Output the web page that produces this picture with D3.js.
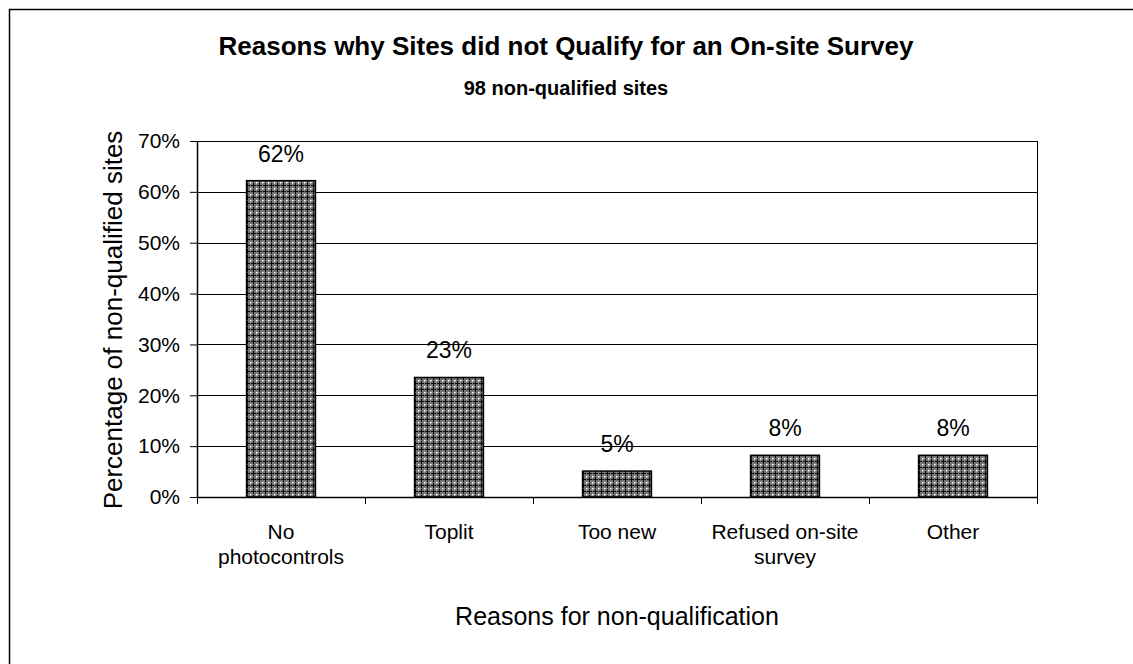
<!DOCTYPE html>
<html>
<head>
<meta charset="utf-8">
<script src="https://cdn.jsdelivr.net/npm/d3@7"></script>
<style>
  body { margin: 0; background: #fff; }
  text { font-family: "Liberation Sans", Arial, sans-serif; fill: #000; }
</style>
</head>
<body>
<script>
var categories = ['No photocontrols', 'Toplit', 'Too new', 'Refused on-site survey', 'Other'];
var labelLines = [['No', 'photocontrols'], ['Toplit'], ['Too new'], ['Refused on-site', 'survey'], ['Other']];
var values = [0.622, 0.235, 0.051, 0.082, 0.082];
var valueLabels = ['62%', '23%', '5%', '8%', '8%'];
var yTicks = [0, 0.1, 0.2, 0.3, 0.4, 0.5, 0.6, 0.7];

var width = 1133;
var height = 664;

var margin = {
    left: 197,
    right: 96,
    top: 141,
    bottom: 167
}
var plotW = width - margin.left - margin.right;
var plotH = height - margin.top - margin.bottom;

var x = d3.scaleBand()
    .domain(categories)
    .range([0, plotW])
    .paddingInner(0.59)
    .paddingOuter(0.295);

var y = d3.scaleLinear()
    .domain([0, 0.7])
    .range([plotH, 0]);

var yAxis = d3.axisLeft(y)
    .tickValues(yTicks)
    .tickFormat(d3.format('.0%'))
    .tickSizeInner(7)
    .tickSizeOuter(0)
    .tickPadding(10);

var svg = d3.select('body').append('svg').attr('width', width).attr('height', height);

// bar fill pattern
var defs = svg.append('defs');
var pat = defs.append('pattern')
    .attr('id', 'hatch')
    .attr('patternUnits', 'userSpaceOnUse')
    .attr('width', 6).attr('height', 6);
pat.append('rect').attr('width', 6).attr('height', 6).attr('fill', '#777');
pat.append('rect').attr('x', 2).attr('y', 0).attr('width', 1).attr('height', 5).attr('fill', '#0a0a0a');
pat.append('rect').attr('x', 0).attr('y', 2).attr('width', 5).attr('height', 1).attr('fill', '#0a0a0a');
pat.append('rect').attr('x', 5).attr('y', 5).attr('width', 1).attr('height', 1).attr('fill', '#fff');
pat.append('rect').attr('x', 0).attr('y', 5).attr('width', 1).attr('height', 1).attr('fill', '#ccc');
pat.append('rect').attr('x', 5).attr('y', 0).attr('width', 1).attr('height', 1).attr('fill', '#ccc');

// outer chart border
svg.append('rect')
    .attr('x', 9.5).attr('y', 9.5)
    .attr('width', width).attr('height', height)
    .attr('fill', 'none').attr('stroke', '#000').attr('stroke-width', 1.5);

svg.append('text')
    .attr('x', 566).attr('y', 55)
    .attr('text-anchor', 'middle')
    .style('font-size', '26px').style('font-weight', 'bold')
    .text('Reasons why Sites did not Qualify for an On-site Survey');

svg.append('text')
    .attr('x', 566).attr('y', 95)
    .attr('text-anchor', 'middle')
    .style('font-size', '20px').style('font-weight', 'bold')
    .text('98 non-qualified sites');

var chartGroup = svg.append('g').attr('transform',
    'translate(' + margin.left + ', ' + margin.top + ')');

// gridlines
chartGroup.selectAll('.grid')
    .data(yTicks.filter(function (d) { return d > 0; }))
    .enter().append('line')
    .attr('x1', 0).attr('x2', plotW)
    .attr('y1', function (d) { return Math.round(y(d)) + 0.5; })
    .attr('y2', function (d) { return Math.round(y(d)) + 0.5; })
    .attr('stroke', '#000').attr('stroke-width', 1);

// right border of plot area
chartGroup.append('line')
    .attr('x1', plotW + 0.5).attr('x2', plotW + 0.5)
    .attr('y1', 0).attr('y2', plotH)
    .attr('stroke', '#000');

chartGroup.selectAll('.bar')
    .data(values)
    .enter().append('rect')
    .attr('x', function (d, i) { return x(categories[i]); })
    .attr('y', function (d) { return y(d); })
    .attr('width', x.bandwidth())
    .attr('height', function (d) { return plotH - y(d); })
    .attr('fill', 'url(#hatch)')
    .attr('stroke', '#000').attr('stroke-width', 1.5);

chartGroup.selectAll('.vlabel')
    .data(values)
    .enter().append('text')
    .attr('x', function (d, i) { return x(categories[i]) + x.bandwidth() / 2; })
    .attr('y', function (d) { return y(d) - 19; })
    .attr('text-anchor', 'middle')
    .style('font-size', '23px')
    .text(function (d, i) { return valueLabels[i]; });

// y axis
var yg = chartGroup.append('g')
    .attr('class', 'axis y')
    .call(yAxis);
yg.select('.domain').attr('stroke', '#000').attr('stroke-width', 1.5);
yg.selectAll('.tick line').attr('stroke', '#000');
yg.selectAll('.tick text').style('font-size', '21px').style('font-family', '"Liberation Sans", Arial, sans-serif');

// x axis line and boundary ticks
chartGroup.append('line')
    .attr('x1', 0).attr('x2', plotW)
    .attr('y1', plotH + 0.5).attr('y2', plotH + 0.5)
    .attr('stroke', '#000').attr('stroke-width', 1.5);

var bounds = d3.range(categories.length + 1).map(function (i) { return i * x.step(); });
chartGroup.selectAll('.xtick')
    .data(bounds)
    .enter().append('line')
    .attr('x1', function (d) { return Math.round(d) + 0.5; })
    .attr('x2', function (d) { return Math.round(d) + 0.5; })
    .attr('y1', plotH).attr('y2', plotH + 7)
    .attr('stroke', '#000');

var xl = chartGroup.selectAll('.xlabel')
    .data(categories)
    .enter().append('text')
    .attr('text-anchor', 'middle')
    .attr('x', function (d) { return x(d) + x.bandwidth() / 2; })
    .attr('y', plotH + 42)
    .style('font-size', '21px');
xl.selectAll('tspan')
    .data(function (d, i) { return labelLines[i]; })
    .enter().append('tspan')
    .attr('x', function () { return d3.select(this.parentNode).attr('x'); })
    .attr('dy', function (d, i) { return i === 0 ? 0 : 25; })
    .text(function (d) { return d; });

// axis titles
svg.append('text')
    .attr('x', margin.left + plotW / 2).attr('y', 625)
    .attr('text-anchor', 'middle')
    .style('font-size', '25px')
    .text('Reasons for non-qualification');

svg.append('text')
    .attr('transform', 'translate(122,320) rotate(-90)')
    .attr('text-anchor', 'middle')
    .style('font-size', '26px')
    .text('Percentage of non-qualified sites');
</script>
</body>
</html>
